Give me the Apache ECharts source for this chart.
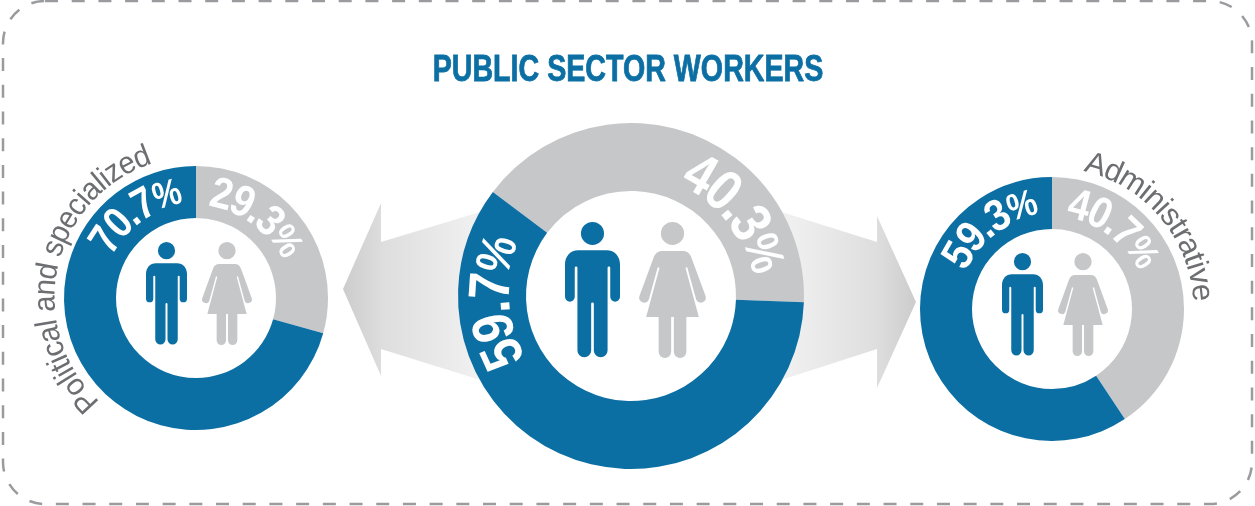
<!DOCTYPE html>
<html>
<head>
<meta charset="utf-8">
<title>Public sector workers</title>
<script src="https://cdn.jsdelivr.net/npm/echarts@6/dist/echarts.min.js"></script>
<style>
	html, body { margin: 0; padding: 0; background: #fff; }
	#chart { width: 1255px; height: 506px; }
</style>
</head>
<body>
<div id="chart"></div>
<script>
	// values
	var groups = ['All', 'Political and specialized', 'Administrative'];
	var menShare = [59.7, 70.7, 59.3];
	var womenShare = [40.3, 29.3, 40.7];
	var titleText = 'PUBLIC SECTOR WORKERS';

	var BLUE = '#0c6fa3';
	var GREY = '#c6c7c9';
	var NARROW = '"Liberation Sans", sans-serif';

	// drawing setup for each donut, same order as groups
	var donuts = [
		{ cx: 631, cy: 296, r0: 105, r: 173, start: 143,
			men: [-120, -65, 138, 58], women: [24, 80, 137, 58],
			icon: { y: 222, h: 136, manX: 565, manW: 55, womanX: 639, womanW: 67 } },
		{ cx: 196, cy: 298, r0: 80, r: 132, start: 90,
			men: [-63, -8, 106, 44], women: [8, 66, 105, 44],
			icon: { y: 242, h: 103, manX: 146, manW: 41, womanX: 202, womanW: 50 },
			caption: [-137, -18, 150, 31] },
		{ cx: 1052, cy: 309, r0: 80, r: 132, start: 90,
			men: [-66, -8, 106, 44], women: [9, 66, 105, 44],
			icon: { y: 253, h: 103, manX: 1002, manW: 41, womanX: 1058, womanW: 50 },
			caption: [13, 87, 150, 31] }
	];

	// icons drawn in a 124x309 box (man) and 150x309 box (woman)
	var manPath = 'M62 0a26 26 0 1 1-.01 0ZM30 64H94C112 64 124 78 124 96V170a11 11 0 0 1-22 0V104a3 3 0 0 0-6 0V292a15.5 15.5 0 0 1-31 0V186a3 3 0 0 0-6 0V292a15.5 15.5 0 0 1-31 0V104a3 3 0 0 0-6 0V170a11 11 0 0 1-22 0V96C0 78 12 64 30 64Z';
	var womanPath = 'M75 0a26 26 0 1 1-.01 0ZM52 66H98C108 66 114 72 117 80L149 168a11 11 0 0 1-21 8L108 103 104 104 134 216H106V295a14 14 0 0 1-28 0V216H72V295a14 14 0 0 1-28 0V216H16L46 104 42 103 22 176a11 11 0 0 1-21-8L33 80C36 72 42 66 52 66Z';
	echarts.graphic.registerShape('manIcon', echarts.graphic.extendPath(manPath));
	echarts.graphic.registerShape('womanIcon', echarts.graphic.extendPath(womanPath));

	var measure = document.createElement('canvas').getContext('2d');

	// one rotated text per character, spread along the arc from a0 to a1
	// (degrees clockwise from 12 o'clock)
	function arcText(str, cx, cy, spec, weight, fill, pctScale) {
		var a0 = spec[0], a1 = spec[1], radius = spec[2], size = spec[3];
		var chars = str.split('');
		var fonts = chars.map(function (c) {
			var s = c === '%' && pctScale ? size * pctScale : size;
			return weight + ' ' + s + 'px ' + NARROW;
		});
		var widths = chars.map(function (c, i) {
			measure.font = fonts[i];
			return measure.measureText(c).width;
		});
		var total = widths.reduce(function (a, b) { return a + b; }, 0);
		var arcLen = (a1 - a0) * Math.PI / 180 * radius;
		var fit = arcLen / total;
		var run = 0;
		return chars.map(function (c, i) {
			var mid = (run + widths[i] / 2) * fit;
			run += widths[i];
			var theta = a0 + mid / radius * 180 / Math.PI;
			var rad = theta * Math.PI / 180;
			return {
				type: 'text',
				z: 20,
				silent: true,
				x: cx + radius * Math.sin(rad),
				y: cy - radius * Math.cos(rad),
				rotation: -rad,
				scaleX: fit,
				style: { text: c, font: fonts[i], fill: fill, align: 'center', verticalAlign: 'middle' }
			};
		});
	}

	function person(type, x, y, w, h, boxW, color) {
		return {
			type: type,
			z: 20,
			silent: true,
			x: x,
			y: y,
			scaleX: w / boxW,
			scaleY: h / 309,
			style: { fill: color }
		};
	}

	function arrow(points, x0, x1, stops) {
		return {
			type: 'polygon',
			z: 0,
			silent: true,
			shape: { points: points },
			style: {
				fill: new echarts.graphic.LinearGradient(x0, 0, x1, 0, stops, true)
			}
		};
	}

	var arrowStops = [
		{ offset: 0, color: '#cccccc' },
		{ offset: 0.3, color: '#dedede' },
		{ offset: 1, color: '#f1f1f1' }
	];

	var graphics = [
		{
			type: 'rect',
			z: 0,
			silent: true,
			shape: { x: 3, y: 1, width: 1249, height: 503, r: 42 },
			style: { fill: 'none', stroke: '#9a9b9e', lineWidth: 2.5, lineDash: [13, 13.7] }
		},
		{
			type: 'text',
			z: 20,
			silent: true,
			x: 628,
			y: 71,
			scaleX: 0.795,
			style: {
				text: titleText, font: 'bold 36px ' + NARROW, fill: BLUE,
				stroke: BLUE, lineWidth: 0.8, align: 'center', verticalAlign: 'middle'
			}
		},
		arrow([[343, 289], [381, 203], [381, 242], [490, 209], [490, 383], [381, 349], [381, 376]], 343, 480, arrowStops),
		arrow([[916, 302], [877, 216], [877, 242], [775, 210], [775, 382], [877, 349], [877, 388]], 916, 785, arrowStops)
	];

	var series = donuts.map(function (d, i) {
		graphics.push(person('manIcon', d.icon.manX, d.icon.y, d.icon.manW, d.icon.h, 124, BLUE));
		graphics.push(person('womanIcon', d.icon.womanX, d.icon.y, d.icon.womanW, d.icon.h, 150, GREY));
		graphics = graphics.concat(arcText(menShare[i].toFixed(1) + '%', d.cx, d.cy, d.men, 'bold', '#fff', 0.85));
		graphics = graphics.concat(arcText(womenShare[i].toFixed(1) + '%', d.cx, d.cy, d.women, 'bold', '#fff', 0.85));
		if (d.caption) {
			graphics = graphics.concat(arcText(groups[i], d.cx, d.cy, d.caption, 'normal', '#6d6e71'));
		}
		return {
			type: 'pie',
			name: groups[i],
			silent: true,
			z: 5,
			center: [d.cx, d.cy],
			radius: [d.r0, d.r],
			startAngle: d.start,
			clockwise: true,
			label: { show: false },
			labelLine: { show: false },
			emphasis: { disabled: true },
			data: [
				{ name: 'Women', value: womenShare[i], itemStyle: { color: GREY } },
				{ name: 'Men', value: menShare[i], itemStyle: { color: BLUE } }
			]
		};
	});

	var myChart = echarts.init(document.getElementById('chart'));
	myChart.setOption({
		animation: false,
		backgroundColor: '#fff',
		tooltip: { show: false },
		series: series,
		graphic: { elements: graphics }
	});
</script>
</body>
</html>
